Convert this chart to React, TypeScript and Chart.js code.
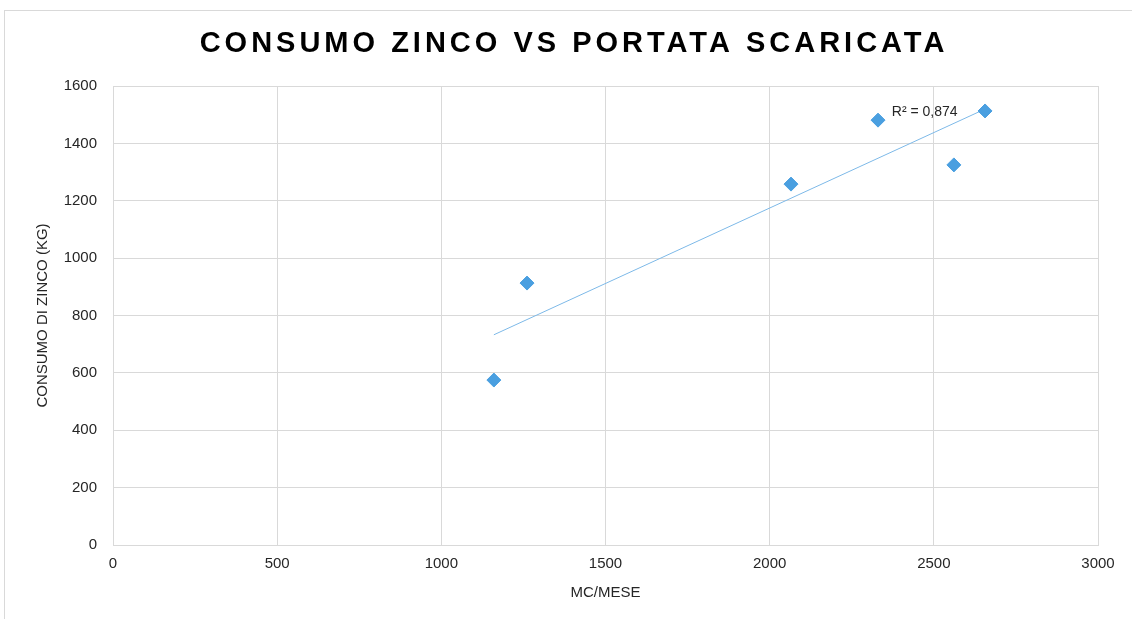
import React, { useEffect, useRef } from "react";
import { Chart, registerables } from "chart.js";

Chart.register(...registerables);

const TITLE = "CONSUMO ZINCO VS PORTATA SCARICATA";
const X_TITLE = "MC/MESE";
const Y_TITLE = "CONSUMO DI ZINCO (KG)";
const R2_TEXT = "R² = 0,874";
const R2_LABEL_AT = [2372, 1509];

const portata = [1160, 1261, 2065, 2330, 2561, 2656];
const consumo = [575, 913, 1258, 1481, 1325, 1513];

const X_MIN = 0;
const X_MAX = 3000;
const X_STEP = 500;
const Y_MIN = 0;
const Y_MAX = 1600;
const Y_STEP = 200;

function linearFit(xs: number[], ys: number[]) {
  const n = xs.length;
  const mx = xs.reduce((a, b) => a + b, 0) / n;
  const my = ys.reduce((a, b) => a + b, 0) / n;
  let sxy = 0;
  let sxx = 0;
  for (let i = 0; i < n; i++) {
    sxy += (xs[i] - mx) * (ys[i] - my);
    sxx += (xs[i] - mx) * (xs[i] - mx);
  }
  const slope = sxy / sxx;
  return { slope, intercept: my - slope * mx };
}

const FONT = "'Liberation Sans', Arial, sans-serif";
const TEXT_COLOR = "#262626";

export default function App() {
  const ref = useRef<HTMLCanvasElement | null>(null);

  useEffect(() => {
    if (!ref.current) return;
    const fit = linearFit(portata, consumo);
    const xMinData = Math.min(...portata);
    const xMaxData = Math.max(...portata);
    const trend = [
      { x: xMinData, y: fit.intercept + fit.slope * xMinData },
      { x: xMaxData, y: fit.intercept + fit.slope * xMaxData },
    ];

    const textPlugin = {
      id: "texts",
      afterDraw(chart: any) {
        const ctx = chart.ctx;
        ctx.save();
        ctx.font = `bold 29px ${FONT}`;
        (ctx as any).letterSpacing = "4px";
        ctx.fillStyle = "#000000";
        ctx.textAlign = "center";
        ctx.textBaseline = "middle";
        ctx.fillText(TITLE, 574, 44);
        (ctx as any).letterSpacing = "0px";
        const xs = chart.scales.x;
        const ys = chart.scales.y;
        ctx.font = `14px ${FONT}`;
        ctx.fillStyle = TEXT_COLOR;
        ctx.textAlign = "left";
        ctx.fillText(R2_TEXT, xs.getPixelForValue(R2_LABEL_AT[0]), ys.getPixelForValue(R2_LABEL_AT[1]));
        ctx.restore();
      },
    };

    const chart = new Chart(ref.current, {
      type: "scatter",
      data: {
        datasets: [
          {
            type: "line",
            label: "Trend",
            data: trend,
            borderColor: "#7db9e8",
            borderWidth: 1,
            pointRadius: 0,
            fill: false,
            order: 2,
          } as any,
          {
            label: "Consumo",
            data: portata.map((x, i) => ({ x, y: consumo[i] })),
            pointStyle: "rectRot",
            pointRadius: 7,
            pointHoverRadius: 7,
            backgroundColor: "#4a9fe0",
            borderColor: "#4a9fe0",
            borderWidth: 1,
            order: 1,
          },
        ],
      },
      options: {
        animation: false,
        responsive: false,
        maintainAspectRatio: false,
        layout: { padding: { top: 86, right: 34, left: 0, bottom: 0 } },
        plugins: {
          legend: { display: false },
          tooltip: { enabled: false },
          title: { display: false },
        },
        scales: {
          x: {
            type: "linear",
            min: X_MIN,
            max: X_MAX,
            afterFit(scale: any) {
              scale.height = 74;
            },
            ticks: {
              stepSize: X_STEP,
              padding: 10,
              color: TEXT_COLOR,
              font: { family: FONT, size: 15 },
              callback: (v: any) => String(v),
            },
            grid: { color: "#d9d9d9", drawTicks: false },
            border: { color: "#d9d9d9" },
            title: {
              display: true,
              text: X_TITLE,
              color: TEXT_COLOR,
              font: { family: FONT, size: 15 },
              padding: { top: 0, bottom: 17 },
            },
          },
          y: {
            type: "linear",
            min: Y_MIN,
            max: Y_MAX,
            afterFit(scale: any) {
              scale.width = 113;
            },
            ticks: {
              stepSize: Y_STEP,
              padding: 16,
              color: TEXT_COLOR,
              font: { family: FONT, size: 15 },
              callback: (v: any) => String(v),
            },
            grid: { color: "#d9d9d9", drawTicks: false },
            border: { color: "#d9d9d9" },
            title: {
              display: true,
              text: Y_TITLE,
              color: TEXT_COLOR,
              font: { family: FONT, size: 15 },
              padding: { top: 34, bottom: 0 },
            },
          },
        },
      },
      plugins: [textPlugin],
    });
    return () => chart.destroy();
  }, []);

  return (
    <div style={{ position: "absolute", left: 0, top: 0, width: 1132, height: 619, background: "#ffffff", overflow: "hidden" }}>
      <div
        style={{
          position: "absolute",
          left: 4,
          top: 10,
          width: 1140,
          height: 620,
          border: "1px solid #d9d9d9",
          boxSizing: "border-box",
        }}
      />
      <canvas ref={ref} width={1132} height={619} style={{ position: "absolute", left: 0, top: 0 }} />
    </div>
  );
}
